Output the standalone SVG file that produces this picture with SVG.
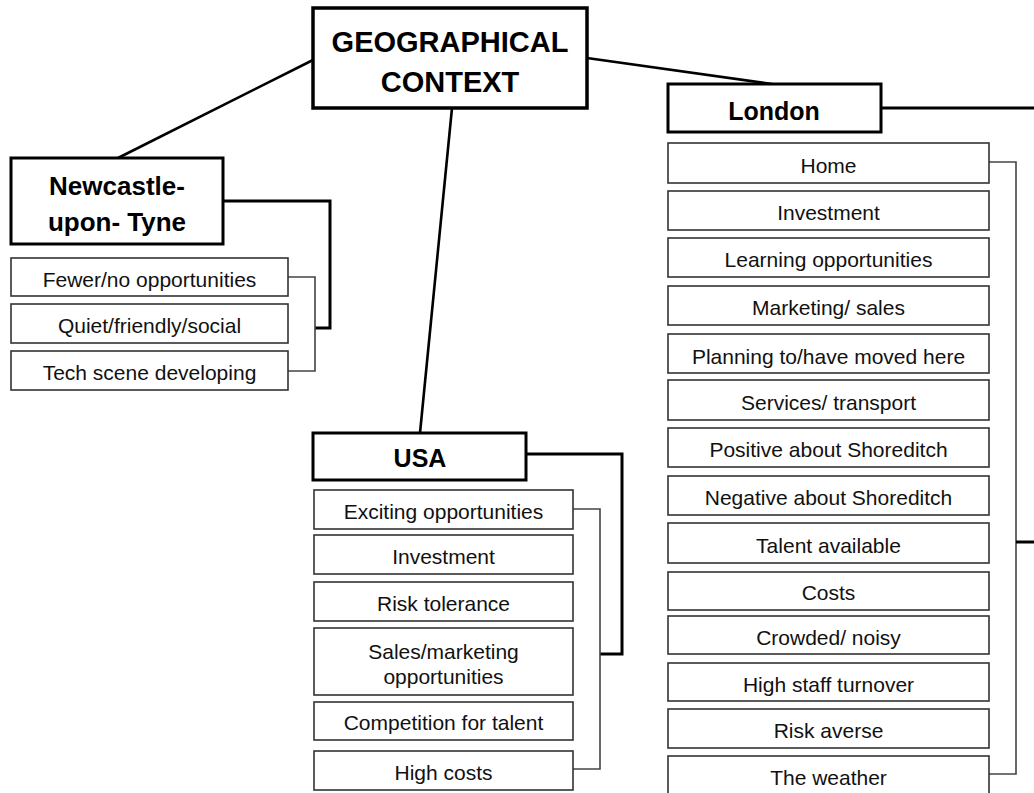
<svg xmlns="http://www.w3.org/2000/svg" width="1034" height="793" viewBox="0 0 1034 793">
<style>
.bg{fill:#fff}
.main{fill:#fff;stroke:#000;stroke-width:3.5}
.head{fill:#fff;stroke:#000;stroke-width:3}
.sub{fill:#fff;stroke:#333;stroke-width:1.6}
.t{font-family:"Liberation Sans",Arial,sans-serif;text-anchor:middle;fill:#000}
.tb{font-weight:bold}
.ts{font-size:21px;fill:#111}
.link{fill:none;stroke:#000;stroke-width:2.6}
.thick{fill:none;stroke:#000;stroke-width:3}
.br{fill:none;stroke:#444;stroke-width:1.6}
</style>
<rect class="bg" x="0" y="0" width="1034" height="793"/>
<g id="connectors">
<line class="link" x1="313" y1="60" x2="118" y2="158"/>
<line class="link" x1="587" y1="58" x2="772" y2="84"/>
<line class="link" x1="452" y1="108" x2="420" y2="433"/>
<polyline class="thick" points="223,201 330,201 330,328 315,328"/>
<polyline class="br" points="288,277 315,277 315,371 288,371"/>
<polyline class="thick" points="526,454 622,454 622,654 600,654"/>
<polyline class="br" points="573,509 600,509 600,769 573,769"/>
<line class="thick" x1="881" y1="108" x2="1034" y2="108"/>
<polyline class="br" points="989,162 1016,162 1016,774 989,774"/>
<line class="thick" x1="1016" y1="542" x2="1034" y2="542"/>
</g>
<g id="geo">
<rect class="main" x="313" y="8" width="274" height="100"/>
<text class="t tb" x="450" y="52" font-size="29">GEOGRAPHICAL</text>
<text class="t tb" x="450" y="92" font-size="29">CONTEXT</text>
</g>
<g id="newcastle">
<rect class="head" x="11" y="158" width="212" height="86"/>
<text class="t tb" x="117" y="195" font-size="26">Newcastle-</text>
<text class="t tb" x="117" y="231" font-size="26">upon- Tyne</text>
</g>
<g id="nc-fewer"><rect class="sub" x="11" y="258" width="277" height="38"/><text class="t ts" x="149.5" y="287">Fewer/no opportunities</text></g>
<g id="nc-quiet"><rect class="sub" x="11" y="304" width="277" height="39"/><text class="t ts" x="149.5" y="333">Quiet/friendly/social</text></g>
<g id="nc-tech"><rect class="sub" x="11" y="351" width="277" height="39"/><text class="t ts" x="149.5" y="380">Tech scene developing</text></g>
<g id="usa">
<rect class="head" x="313" y="433" width="213" height="47"/>
<text class="t tb" x="420" y="467" font-size="25">USA</text>
</g>
<g id="usa-exciting"><rect class="sub" x="314" y="490" width="259" height="39"/><text class="t ts" x="443.5" y="519">Exciting opportunities</text></g>
<g id="usa-investment"><rect class="sub" x="314" y="535" width="259" height="39"/><text class="t ts" x="443.5" y="564">Investment</text></g>
<g id="usa-risk"><rect class="sub" x="314" y="582" width="259" height="39"/><text class="t ts" x="443.5" y="611">Risk tolerance</text></g>
<g id="usa-sales"><rect class="sub" x="314" y="628" width="259" height="67"/><text class="t ts" x="443.5" y="659">Sales/marketing</text><text class="t ts" x="443.5" y="684">opportunities</text></g>
<g id="usa-competition"><rect class="sub" x="314" y="702" width="259" height="38"/><text class="t ts" x="443.5" y="730">Competition for talent</text></g>
<g id="usa-costs"><rect class="sub" x="314" y="751" width="259" height="39"/><text class="t ts" x="443.5" y="780">High costs</text></g>
<g id="london">
<rect class="head" x="668" y="84" width="213" height="48"/>
<text class="t tb" x="774" y="120" font-size="25">London</text>
</g>
<g id="ld-home"><rect class="sub" x="668" y="143" width="321" height="40"/><text class="t ts" x="828.5" y="173">Home</text></g>
<g id="ld-investment"><rect class="sub" x="668" y="191" width="321" height="39"/><text class="t ts" x="828.5" y="220">Investment</text></g>
<g id="ld-learning"><rect class="sub" x="668" y="238" width="321" height="39"/><text class="t ts" x="828.5" y="267">Learning opportunities</text></g>
<g id="ld-marketing"><rect class="sub" x="668" y="286" width="321" height="39"/><text class="t ts" x="828.5" y="315">Marketing/ sales</text></g>
<g id="ld-planning"><rect class="sub" x="668" y="334" width="321" height="39"/><text class="t ts" x="828.5" y="364">Planning to/have moved here</text></g>
<g id="ld-services"><rect class="sub" x="668" y="380" width="321" height="40"/><text class="t ts" x="828.5" y="410">Services/ transport</text></g>
<g id="ld-positive"><rect class="sub" x="668" y="428" width="321" height="39"/><text class="t ts" x="828.5" y="457">Positive about Shoreditch</text></g>
<g id="ld-negative"><rect class="sub" x="668" y="476" width="321" height="39"/><text class="t ts" x="828.5" y="505">Negative about Shoreditch</text></g>
<g id="ld-talent"><rect class="sub" x="668" y="523" width="321" height="40"/><text class="t ts" x="828.5" y="553">Talent available</text></g>
<g id="ld-costs"><rect class="sub" x="668" y="572" width="321" height="38"/><text class="t ts" x="828.5" y="600">Costs</text></g>
<g id="ld-crowded"><rect class="sub" x="668" y="616" width="321" height="38"/><text class="t ts" x="828.5" y="645">Crowded/ noisy</text></g>
<g id="ld-turnover"><rect class="sub" x="668" y="663" width="321" height="38"/><text class="t ts" x="828.5" y="692">High staff turnover</text></g>
<g id="ld-risk"><rect class="sub" x="668" y="709" width="321" height="39"/><text class="t ts" x="828.5" y="738">Risk averse</text></g>
<g id="ld-weather"><rect class="sub" x="668" y="756" width="321" height="42"/><text class="t ts" x="828.5" y="785">The weather</text></g>
</svg>
